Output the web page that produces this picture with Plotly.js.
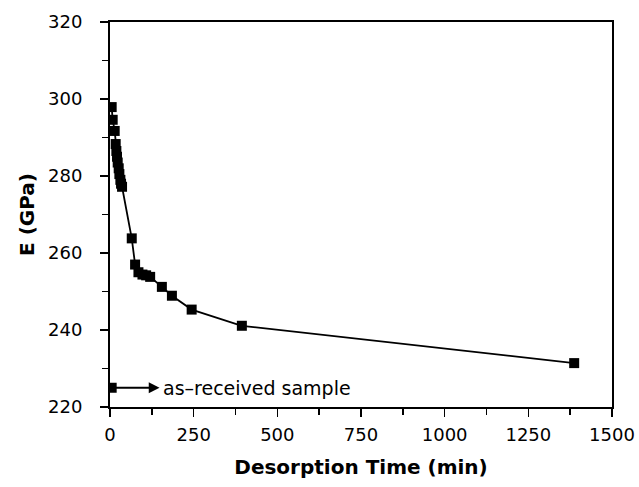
<!DOCTYPE html>
<html>
<head>
<meta charset="utf-8">
<script src="https://cdn.plot.ly/plotly-3.0.1.min.js"></script>
<style>html,body{margin:0;padding:0;background:#fff}#chart{width:639px;height:487px}</style>
</head>
<body>
<div id="chart"></div>
<script>
// Desorption time (min) and elastic modulus E (GPa)
const desorptionTime = [5, 8, 14, 17, 19, 21, 23, 26, 28, 31, 33, 36, 65, 75, 85, 97, 108, 120, 155, 185, 244, 394, 1387];
const modulusE = [297.9, 294.6, 291.7, 288.3, 286.5, 285.0, 283.5, 282.0, 280.5, 279.0, 278.0, 277.2, 263.8, 257.0, 255.0, 254.4, 254.2, 253.8, 251.2, 248.9, 245.3, 241.1, 231.4];
const asReceivedTime = [5];
const asReceivedE = [225.0];
const asReceivedLabel = 'as\u2013received sample';
const xTickVals = [0, 250, 500, 750, 1000, 1250, 1500];
const yTickVals = [220, 240, 260, 280, 300, 320];

const font = {family: 'DejaVu Sans, Liberation Sans, Arial, sans-serif', color: '#000'};

const traces = [
  {
    x: desorptionTime, y: modulusE, type: 'scatter', mode: 'lines+markers',
    line: {color: '#000', width: 1.8},
    marker: {symbol: 'square', size: 10, color: '#000'},
    showlegend: false, hoverinfo: 'x+y'
  },
  {
    x: asReceivedTime, y: asReceivedE, type: 'scatter', mode: 'markers',
    marker: {symbol: 'square', size: 10, color: '#000'},
    showlegend: false, hoverinfo: 'x+y'
  }
];

const axisCommon = {
  showgrid: false, zeroline: false, showline: true, linecolor: '#000', linewidth: 2,
  mirror: true, ticks: 'outside', ticklen: 8, tickwidth: 1.5, tickcolor: '#000',
  tickfont: Object.assign({size: 18}, font)
};

const layout = {
  width: 639, height: 487,
  margin: {l: 110, r: 27, t: 22, b: 80},
  paper_bgcolor: '#fff', plot_bgcolor: '#fff',
  xaxis: Object.assign({}, axisCommon, {
    range: [0, 1500], tickmode: 'array', tickvals: xTickVals,
    ticktext: xTickVals.map(String),
    minor: {dtick: 125, tick0: 0, ticks: 'outside', ticklen: 6, tickwidth: 1.5, tickcolor: '#000', showgrid: false},
    ticklabelstandoff: 2,
    title: {text: 'Desorption Time (min)', font: Object.assign({size: 20, weight: 'bold'}, font), standoff: 16}
  }),
  yaxis: Object.assign({}, axisCommon, {
    range: [220, 320], tickmode: 'array', tickvals: yTickVals,
    ticktext: yTickVals.map(String),
    minor: {dtick: 10, tick0: 220, ticks: 'outside', ticklen: 6, tickwidth: 1.5, tickcolor: '#000', showgrid: false},
    ticklabelstandoff: 14,
    title: {text: 'E (GPa)', font: Object.assign({size: 20, weight: 'bold'}, font), standoff: 8}
  }),
  annotations: [
    {
      x: 148, y: asReceivedE[0], ax: asReceivedTime[0] + 3, ay: asReceivedE[0],
      xref: 'x', yref: 'y', axref: 'x', ayref: 'y',
      text: '', showarrow: true, arrowhead: 2, arrowsize: 1.2, arrowwidth: 1.8, arrowcolor: '#000'
    },
    {
      x: 152, y: asReceivedE[0], xref: 'x', yref: 'y', xanchor: 'left', yanchor: 'middle',
      text: asReceivedLabel, showarrow: false, font: Object.assign({size: 19}, font)
    }
  ]
};

Plotly.newPlot('chart', traces, layout, {displayModeBar: false, staticPlot: true});
</script>
</body>
</html>
